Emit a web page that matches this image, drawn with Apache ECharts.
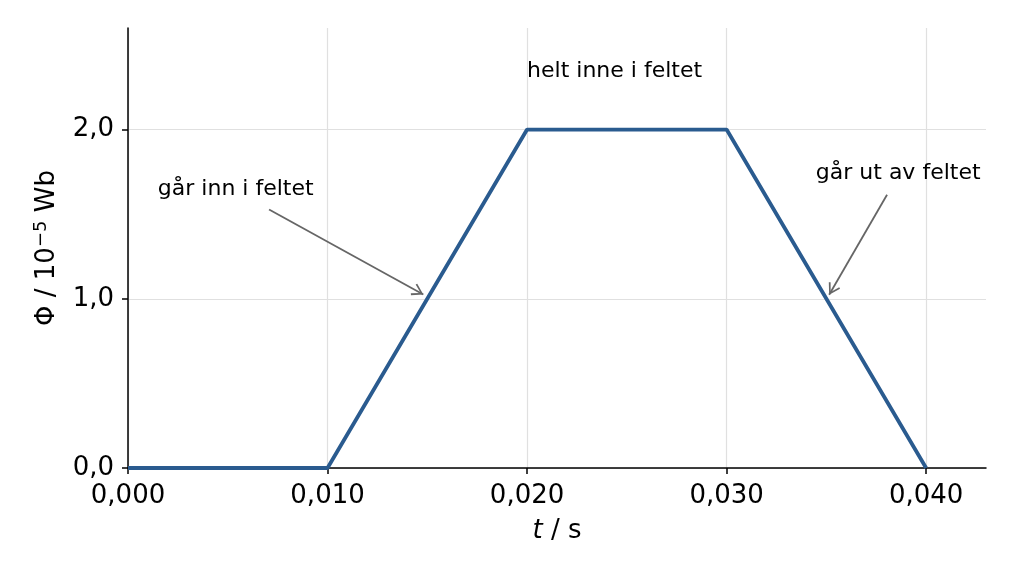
<html>
<head>
<meta charset="utf-8">
<script src="https://cdn.jsdelivr.net/npm/echarts@6/dist/echarts.min.js"></script>
<style>
    body { margin: 0; padding: 0; background: #fff; }
    #content { width: 1024px; height: 576px; }
</style>
</head>
<body>
<div id="content"></div>
<script type="text/javascript">
    // flux through the loop, Phi in 10^-5 Wb
    var tValues = [0, 0.010, 0.020, 0.030, 0.040];
    var phiValues = [0, 0, 2.0, 2.0, 0];
    var xTicks = [0, 0.010, 0.020, 0.030, 0.040];
    var yTicks = [0, 1, 2];

    // notes: text, text position, arrow start, arrow end
    var noteTexts = ['går inn i feltet', 'helt inne i feltet', 'går ut av feltet'];
    var notePos = [[0.0054, 1.645], [0.020, 2.343], [0.0386, 1.74]];
    var arrowFrom = [[0.00707, 1.527], [0.03804, 1.615]];
    var arrowTo = [[0.0148, 1.025], [0.03514, 1.024]];

    var fontName = 'DejaVu Sans';
    var lineData = tValues.map(function (t, i) { return [t, phiValues[i]]; });
    var noteData = notePos.map(function (p, i) {
        return {
            value: p,
            label: {
                show: true,
                formatter: noteTexts[i],
                position: [0, 0],
                color: '#000',
                opacity: 1,
                fontFamily: fontName,
                fontSize: 22,
                align: i == 1 ? 'left' : 'center',
                verticalAlign: 'middle'
            }
        };
    });
    var arrowData = arrowFrom.map(function (a, i) {
        return [{ coord: a }, { coord: arrowTo[i] }];
    });

    // open arrow head, tip at the centre of the path box
    var arrowHead = 'path://M0,-11.5 L0,-11.5 Z M0,0 L6.5,10.5 L5,11.5 L0,3 L-5,11.5 L-6.5,10.5 Z';

    var chart = echarts.init(document.getElementById('content'));
    var option = {
        animation: false,
        grid: { left: 128, right: 38, top: 28, bottom: 108 },
        xAxis: {
            type: 'value',
            min: 0,
            max: 0.043,
            name: '{i|t} / s',
            nameLocation: 'middle',
            nameGap: 50,
            nameTextStyle: {
                color: '#000', fontFamily: fontName, fontSize: 26,
                rich: { i: { fontStyle: 'italic', fontFamily: fontName, fontSize: 26, color: '#000' } }
            },
            axisLine: { show: true, lineStyle: { color: '#000', width: 1.5 } },
            axisTick: { show: true, customValues: xTicks, length: 6, lineStyle: { color: '#000', width: 1.5 } },
            axisLabel: {
                customValues: xTicks,
                color: '#000', fontFamily: fontName, fontSize: 26, margin: 15,
                formatter: function (v) { return v.toFixed(3).replace('.', ','); }
            },
            splitLine: { show: true, lineStyle: { color: '#e0e0e0', width: 1.2 } }
        },
        yAxis: {
            type: 'value',
            min: 0,
            max: 2.6,
            name: 'Φ / 10{s|−5} Wb',
            nameLocation: 'middle',
            nameGap: 66,
            nameTextStyle: {
                color: '#000', fontFamily: fontName, fontSize: 26,
                rich: { s: { fontSize: 18, fontFamily: fontName, color: '#000', verticalAlign: 'top', padding: [0, 0, 12, 0] } }
            },
            axisLine: { show: true, lineStyle: { color: '#000', width: 1.5 } },
            axisTick: { show: true, customValues: yTicks, length: 6, lineStyle: { color: '#000', width: 1.5 } },
            axisLabel: {
                customValues: yTicks,
                color: '#000', fontFamily: fontName, fontSize: 26, margin: 14,
                formatter: function (v) { return v.toFixed(1).replace('.', ','); }
            },
            splitLine: { show: true, lineStyle: { color: '#e0e0e0', width: 1.2 } }
        },
        series: [{
            type: 'line',
            data: lineData,
            showSymbol: false,
            lineStyle: { color: '#2a5b8f', width: 3.8 },
            z: 3
        }, {
            type: 'scatter',
            data: noteData,
            symbol: 'circle',
            symbolSize: 0,
            itemStyle: { color: '#000', opacity: 1 },
            markLine: {
                silent: true,
                symbol: ['none', arrowHead],
                symbolSize: [13, 23],
                label: { show: false },
                lineStyle: { color: '#666', width: 1.8, type: 'solid' },
                data: arrowData
            },
            z: 4
        }]
    };
    chart.setOption(option);
</script>
</body>
</html>
